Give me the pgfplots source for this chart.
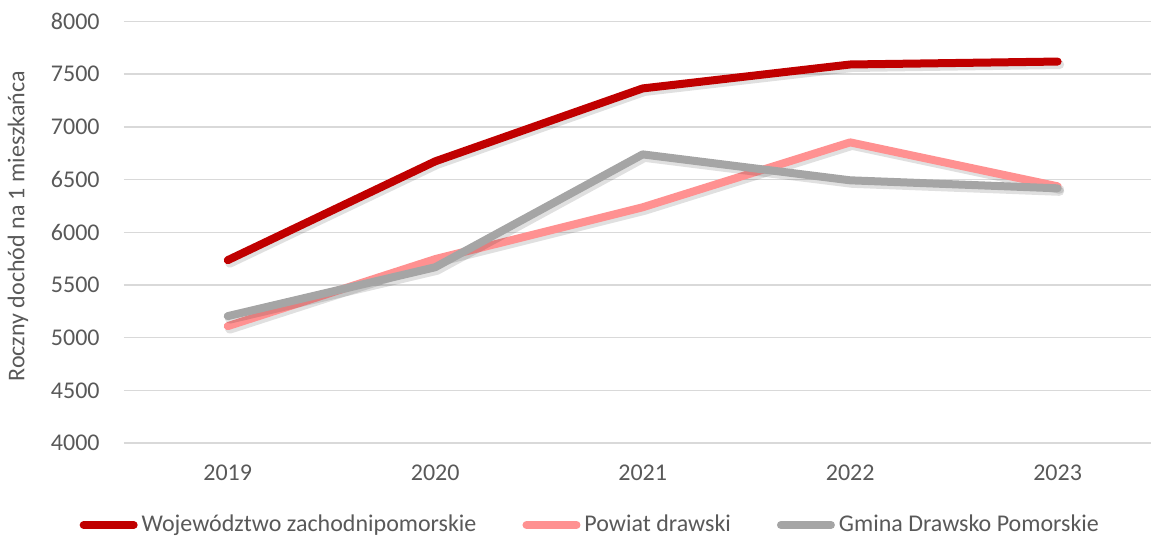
\documentclass[border=0pt]{standalone}
\usepackage{pgfplots}
\pgfplotsset{compat=1.18}
\usepackage{pgfplotstable}
\usepackage{fontspec}
\setmainfont{Carlito}
\definecolor{txt}{HTML}{595959}
\definecolor{gridc}{HTML}{D9D9D9}
\definecolor{cred}{HTML}{C00000}
\definecolor{cpink}{HTML}{FF9191}
\definecolor{cgray}{HTML}{A5A5A5}
\pgfplotstableread{
x y
0 5735
1 6673
2 7365
3 7592
4 7620
}\woj
\pgfplotstableread{
x y
0 5109
1 5745
2 6237
3 6853
4 6436
}\pow
\pgfplotstableread{
x y
0 5204
1 5668
2 6739
3 6493
4 6417
}\gmi
\begin{document}
\begin{tikzpicture}
\begin{axis}[
  name=ax,
  scale only axis,
  width=513.5pt, height=210.75pt,
  xmin=-0.5, xmax=4.45,
  ymin=4000, ymax=8000,
  ytick={4000,4500,...,8000},
  xtick={0,1,2,3,4},
  xticklabels={2019,2020,2021,2022,2023},
  axis line style={draw=none},
  major tick length=0pt,
  ymajorgrids,
  major grid style={draw=gridc, line width=0.75pt},
  tick label style={font=\fontsize{12}{14}\selectfont, text=txt},
  /pgf/number format/assume math mode=true,
  /pgf/number format/1000 sep={},
  yticklabel style={inner sep=0pt, anchor=east, xshift=-12pt},
  xticklabel style={inner sep=0pt, anchor=north, yshift=-11pt},
  ylabel={Roczny dochód na 1 mieszkańca},
  ylabel style={at={(axis description cs:0,0.5)}, anchor=center, yshift=53pt, xshift=3pt, font=\fontsize{12}{14}\selectfont, text=txt, inner sep=0pt},
  legend columns=3,
  legend style={at={(axis description cs:0.455,0)}, anchor=center, yshift=-41pt, draw=none, fill=none,
    font=\fontsize{12}{14}\selectfont, text=txt, inner sep=0pt,
    /tikz/every even column/.append style={column sep=21pt}},
  legend image code/.code={\draw[line width=4pt, line cap=round] (0pt,0pt) -- (25pt,0pt);},
  every axis plot/.append style={line join=round, line cap=round},
]
\addplot[forget plot, draw=black, opacity=0.12, line width=4.5pt, xshift=1pt, yshift=-1.5pt] table {\woj};
\addplot[draw=cred, line width=4pt] table {\woj};
\addlegendentry{Województwo zachodnipomorskie}
\addplot[forget plot, draw=black, opacity=0.12, line width=4.5pt, xshift=1pt, yshift=-1.5pt] table {\pow};
\addplot[draw=cpink, line width=4pt] table {\pow};
\addlegendentry{Powiat drawski}
\addplot[forget plot, draw=black, opacity=0.12, line width=4.5pt, xshift=1pt, yshift=-1.5pt] table {\gmi};
\addplot[draw=cgray, line width=4pt] table {\gmi};
\addlegendentry{Gmina Drawsko Pomorskie}
\end{axis}
\pgfresetboundingbox
\path[use as bounding box] ([xshift=-62pt,yshift=-47pt]ax.south west) rectangle ([yshift=10.75pt]ax.north east);
\end{tikzpicture}
\end{document}
